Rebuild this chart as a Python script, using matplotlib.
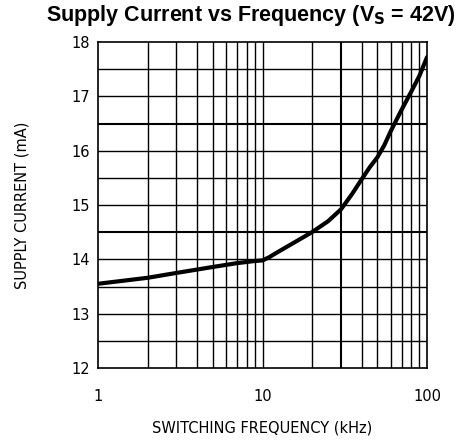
import matplotlib
matplotlib.use("Agg")
import matplotlib.pyplot as plt
import numpy as np

# curve
freq_khz = [1, 2, 3, 5, 7, 9, 10, 11, 12, 15, 20, 25, 30, 35, 40, 45, 50, 55,
            60, 70, 80, 90, 100]
current_ma = [13.55, 13.66, 13.75, 13.86, 13.93, 13.97, 13.98, 14.04, 14.11, 14.28,
              14.5, 14.7, 14.92, 15.2, 15.47, 15.7, 15.88, 16.1, 16.35, 16.75,
              17.08, 17.38, 17.72]

y_ticks = [12, 13, 14, 15, 16, 17, 18]
x_ticks = [1, 10, 100]
x_tick_labels = ["1", "10", "100"]

fig = plt.figure(figsize=(4.61, 4.45), dpi=100)
ax = fig.add_axes([98 / 461, 1 - 368 / 445, 329 / 461, 326 / 445])

ax.set_xscale("log")
ax.set_xlim(1, 100)
ax.set_ylim(12, 18)

# grid
for dec in [1, 10]:
    for m in range(2, 10):
        xv = dec * m
        lw = 1.5 if xv == 30 else 1.0
        ax.axvline(xv, color="black", lw=lw, zorder=1)
ax.axvline(10, color="black", lw=1.0, zorder=1)
for yv in np.arange(12.5, 18, 0.5):
    lw = 1.5 if yv in (14.5, 16.5) else 1.0
    ax.axhline(yv, color="black", lw=lw, zorder=1)

ax.plot(freq_khz, current_ma, color="black", lw=3, zorder=3,
        solid_capstyle="round", solid_joinstyle="round")

for s in ax.spines.values():
    s.set_linewidth(1.2)

ax.set_yticks(y_ticks)
ax.set_yticklabels([str(v) for v in y_ticks], fontsize=10.5)
ax.set_xticks(x_ticks)
ax.set_xticklabels(x_tick_labels, fontsize=10.5)
ax.xaxis.set_minor_locator(matplotlib.ticker.NullLocator())
ax.tick_params(length=0)
ax.tick_params(axis="x", pad=15)
ax.tick_params(axis="y", pad=6)

ax.set_xlabel("SWITCHING FREQUENCY (kHz)", fontsize=10.5, labelpad=12)
ax.set_ylabel("SUPPLY CURRENT (mA)", fontsize=10.5, labelpad=30)

fig.text(0.545, 0.966, r"Supply Current vs Frequency (V$_\mathbf{S}$ = 42V)",
         ha="center", va="center", fontsize=15.5, fontweight="bold",
         family="Liberation Sans")

fig.savefig("out.png", dpi=100)
